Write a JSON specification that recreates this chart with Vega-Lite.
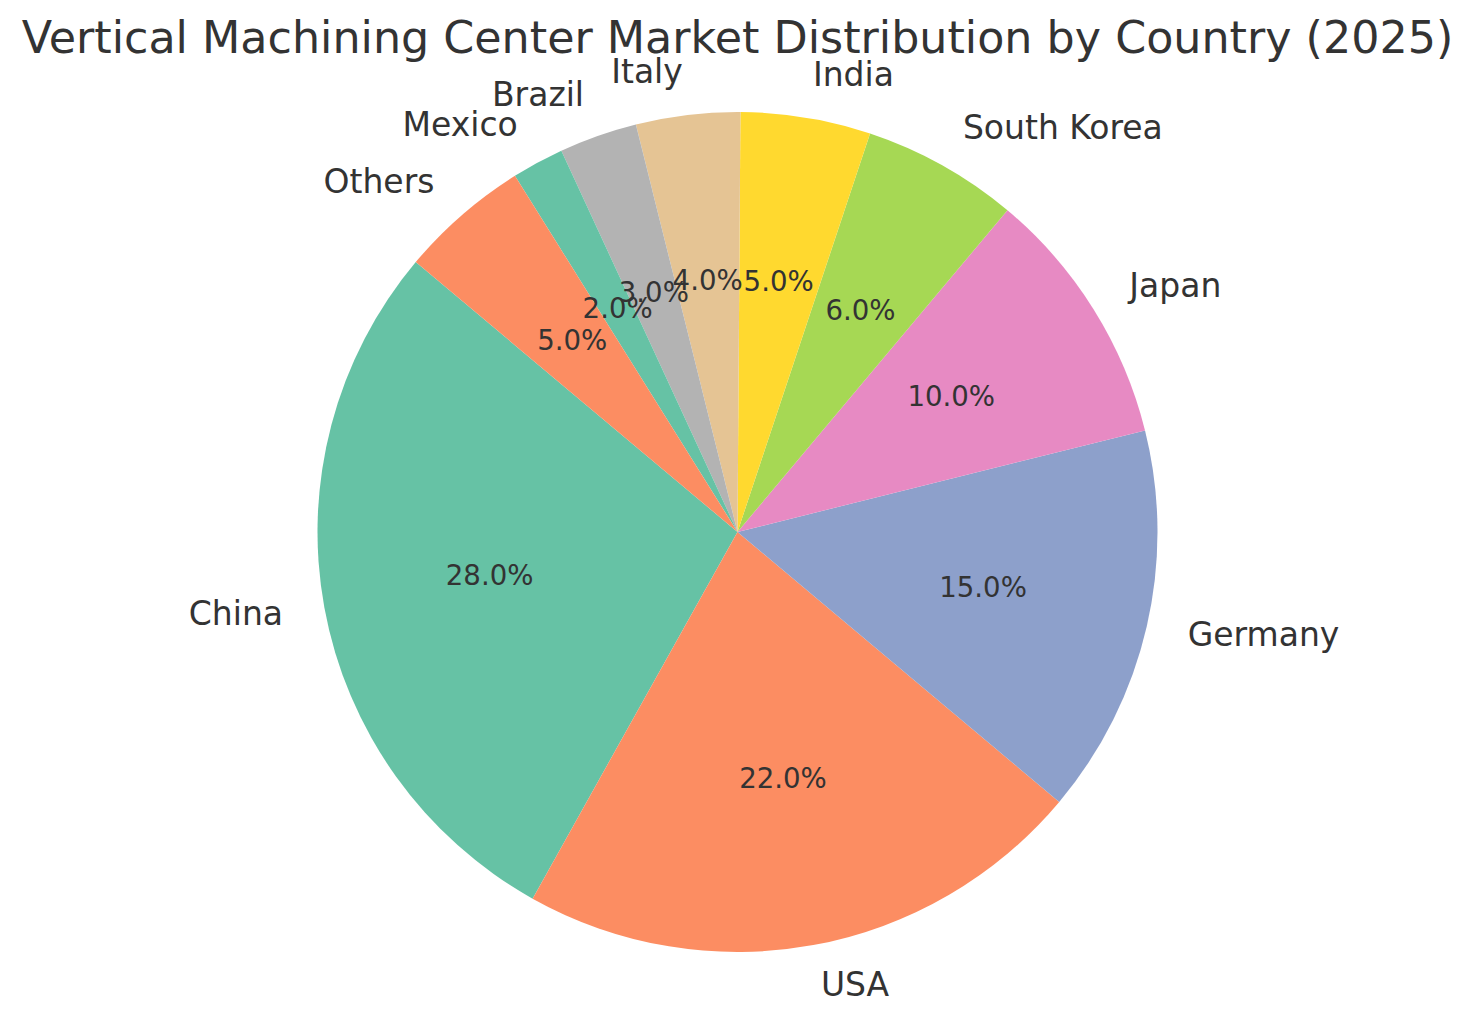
{
  "$schema": "https://vega.github.io/schema/vega-lite/v6.json",
  "width": 1475,
  "height": 982,
  "autosize": {"type": "none"},
  "padding": {"top": 41, "left": 0, "right": 0, "bottom": 0},
  "background": "white",
  "title": {
    "text": "Vertical Machining Center Market Distribution by Country (2025)",
    "font": "DejaVu Sans",
    "fontSize": 44.4,
    "fontWeight": "normal",
    "color": "#333333",
    "anchor": "middle",
    "baseline": "alphabetic",
    "offset": -13,
    "dy": 43
  },
  "config": {"view": {"stroke": null}},
  "data": {
    "values": [
      {"idx": 1, "country": "China", "share": 0.28},
      {"idx": 2, "country": "USA", "share": 0.22},
      {"idx": 3, "country": "Germany", "share": 0.15},
      {"idx": 4, "country": "Japan", "share": 0.10},
      {"idx": 5, "country": "South Korea", "share": 0.06},
      {"idx": 6, "country": "India", "share": 0.05},
      {"idx": 7, "country": "Italy", "share": 0.04},
      {"idx": 8, "country": "Brazil", "share": 0.03},
      {"idx": 9, "country": "Mexico", "share": 0.02},
      {"idx": 10, "country": "Others", "share": 0.05}
    ]
  },
  "encoding": {
    "theta": {"field": "share", "type": "quantitative", "stack": true, "scale": {"range": [5.410521, 11.693706]}},
    "order": {"field": "idx", "type": "quantitative", "sort": "descending"}
  },
  "layer": [
    {
      "mark": {"type": "arc", "outerRadius": 420},
      "encoding": {
        "color": {
          "field": "country", "type": "nominal", "legend": null,
          "scale": {
            "domain": ["China", "USA", "Germany", "Japan", "South Korea", "India", "Italy", "Brazil", "Mexico", "Others"],
            "range": ["#66c2a5", "#fc8d62", "#8da0cb", "#e78ac3", "#a6d854", "#ffd92f", "#e5c494", "#b3b3b3", "#66c2a5", "#fc8d62"]
          }
        }
      }
    },
    {
      "mark": {"type": "text", "radius": 252, "font": "DejaVu Sans", "fontSize": 27.6, "color": "#333333", "align": "center", "baseline": "middle"},
      "encoding": {"text": {"field": "share", "type": "quantitative", "format": ".1%"}}
    },
    {
      "mark": {"type": "text", "radius": 462, "font": "DejaVu Sans", "fontSize": 33, "color": "#333333", "align": "left", "baseline": "middle"},
      "encoding": {
        "text": {"condition": {"test": "indexof(['USA','Germany','Japan','South Korea','India'], datum.country) >= 0", "field": "country"}, "value": ""}
      }
    },
    {
      "mark": {"type": "text", "radius": 462, "font": "DejaVu Sans", "fontSize": 33, "color": "#333333", "align": "right", "baseline": "middle"},
      "encoding": {
        "text": {"condition": {"test": "indexof(['China','Italy','Brazil','Mexico','Others'], datum.country) >= 0", "field": "country"}, "value": ""}
      }
    }
  ]
}
